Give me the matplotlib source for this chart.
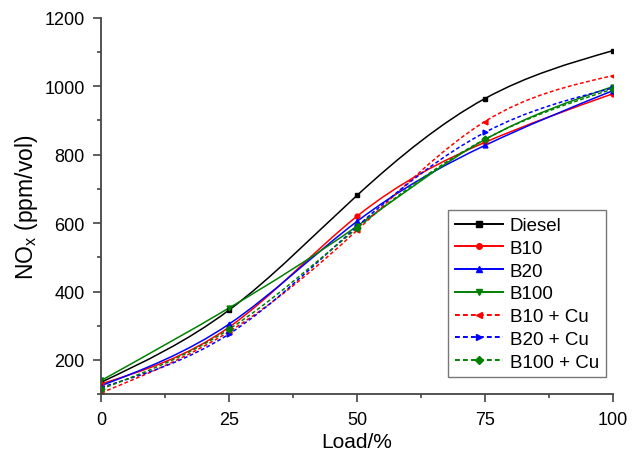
import numpy as np
import matplotlib
matplotlib.use("Agg")
import matplotlib.pyplot as plt
from matplotlib.path import Path
from matplotlib.patches import PathPatch
from matplotlib.lines import Line2D
from matplotlib.ticker import MultipleLocator

plt.rcParams['font.family'] = ['Liberation Sans', 'DejaVu Sans']

load = [0, 25, 50, 75, 100]
diesel = [135, 346, 681, 964, 1104]
b10 = [130, 296, 620, 836, 978]
b20 = [125, 305, 605, 827, 987]
b100 = [140, 352, 591, 844, 999]
b10_cu = [104, 283, 579, 897, 1031]
b20_cu = [120, 276, 590, 865, 995]
b100_cu = [115, 290, 585, 845, 992]

series = [
    ("Diesel", diesel, "black", "-", "s"),
    ("B10", b10, "red", "-", "o"),
    ("B20", b20, "blue", "-", "^"),
    ("B100", b100, "green", "-", "v"),
    ("B10 + Cu", b10_cu, "red", "--", "<"),
    ("B20 + Cu", b20_cu, "blue", "--", ">"),
    ("B100 + Cu", b100_cu, "green", "--", "D"),
]

DASH = (0, (2.5, 1.6))


def spline_path(x, y):
    x = np.asarray(x, float)
    y = np.asarray(y, float)
    n = len(x)
    h = np.diff(x)
    A = np.zeros((n, n))
    r = np.zeros(n)
    A[0, 0] = 1
    A[-1, -1] = 1
    for i in range(1, n - 1):
        A[i, i - 1] = h[i - 1]
        A[i, i] = 2 * (h[i - 1] + h[i])
        A[i, i + 1] = h[i]
        r[i] = 6 * ((y[i + 1] - y[i]) / h[i] - (y[i] - y[i - 1]) / h[i - 1])
    M = np.linalg.solve(A, r)
    d = np.zeros(n)
    for i in range(n - 1):
        d[i] = (y[i + 1] - y[i]) / h[i] - h[i] * (2 * M[i] + M[i + 1]) / 6
    d[-1] = (y[-1] - y[-2]) / h[-1] + h[-1] * (M[-2] + 2 * M[-1]) / 6
    verts = [(x[0], y[0])]
    codes = [Path.MOVETO]
    for i in range(n - 1):
        verts += [(x[i] + h[i] / 3, y[i] + d[i] * h[i] / 3),
                  (x[i + 1] - h[i] / 3, y[i + 1] - d[i + 1] * h[i] / 3),
                  (x[i + 1], y[i + 1])]
        codes += [Path.CURVE4] * 3
    return Path(verts, codes)


fig = plt.figure(figsize=(6.33, 4.60), dpi=100)
ax = fig.add_axes([0.160, 0.141, 0.808, 0.818])

handles = []
for name, vals, col, ls, mk in series:
    lstyle = DASH if ls == '--' else '-'
    patch = PathPatch(spline_path(load, vals), facecolor='none', edgecolor=col,
                      linestyle=lstyle, linewidth=1.1)
    ax.add_patch(patch)
    ax.plot(load, vals, linestyle='none', marker=mk, color=col, markersize=3.5)
    handles.append(Line2D([], [], color=col, linestyle=lstyle, marker=mk,
                          markersize=4, linewidth=1.4, label=name))

ax.set_xlim(0, 100)
ax.set_ylim(100, 1200)
ax.xaxis.set_major_locator(MultipleLocator(25))
ax.xaxis.set_minor_locator(MultipleLocator(12.5))
ax.yaxis.set_minor_locator(MultipleLocator(100))
ax.set_yticks([200, 400, 600, 800, 1000, 1200])
for s in ['top', 'right']:
    ax.spines[s].set_visible(False)
for s in ['left', 'bottom']:
    ax.spines[s].set_color('#444444')
    ax.spines[s].set_linewidth(1.3)
ax.tick_params(which='major', direction='out', length=6, width=1.2, colors='#444444',
               labelsize=13, labelcolor='black', pad=6)
ax.tick_params(which='minor', direction='out', length=3, width=1.2, colors='#444444')

ax.set_xlabel('Load/%', fontsize=15, labelpad=3)
ax.set_ylabel('NO$_\\mathregular{x}$ (ppm/vol)', fontsize=16.5, labelpad=3)

leg = ax.legend(handles=handles, loc='lower right', bbox_to_anchor=(0.986, 0.045),
                fontsize=13.5, frameon=True, fancybox=False, handlelength=2.6,
                handletextpad=0.35, labelspacing=0.3, borderpad=0.35,
                borderaxespad=0)
leg.get_frame().set_edgecolor('#555555')
leg.get_frame().set_linewidth(1.0)

fig.savefig('out.png', dpi=100)
